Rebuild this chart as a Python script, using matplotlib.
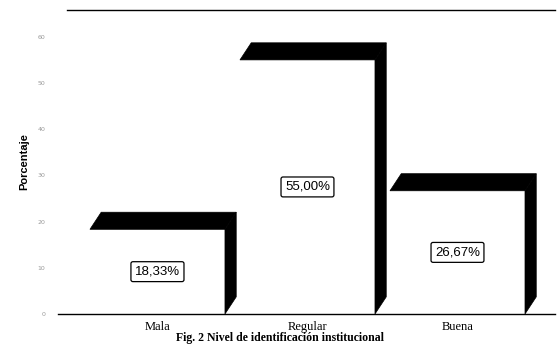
import matplotlib.pyplot as plt
from matplotlib.patches import Polygon

categorias = ['Mala', 'Regular', 'Buena']
porcentajes = [18.33, 55.00, 26.67]
etiquetas = ['18,33%', '55,00%', '26,67%']
yticks = [0, 10, 20, 30, 40, 50, 60]

W, H = 560, 344
fig = plt.figure(figsize=(W / 100, H / 100), dpi=100)
# ejes: x de 58 a 555 px, y de 10 a 314 px
ax = fig.add_axes([58 / W, (H - 314) / H, (555 - 58) / W, (314 - 10) / H])

ancho = 0.9
dx, dy = 0.075, 3.7  # profundidad del efecto 3D
for i, v in enumerate(porcentajes):
    x0, x1 = i - ancho / 2, i + ancho / 2
    # cara frontal
    ax.add_patch(Polygon([(x0, 0), (x1, 0), (x1, v), (x0, v)], closed=True,
                         facecolor='white', edgecolor='none', zorder=2))
    # cara superior
    ax.add_patch(Polygon([(x0, v), (x1, v), (x1 + dx, v + dy), (x0 + dx, v + dy)],
                         closed=True, facecolor='black', edgecolor='black', lw=0.5, zorder=3))
    # cara lateral
    ax.add_patch(Polygon([(x1, 0), (x1 + dx, dy), (x1 + dx, v + dy), (x1, v)],
                         closed=True, facecolor='black', edgecolor='black', lw=0.5, zorder=3))
    ax.text(i, v / 2, etiquetas[i], ha='center', va='center', fontsize=9.5,
            family='Liberation Sans', zorder=4,
            bbox=dict(boxstyle='round,pad=0.3,rounding_size=0.15', fc='white', ec='black', lw=0.9))

ax.set_xlim(-0.663, 2.65)
ax.set_ylim(0, 65.8)
ax.set_xticks(range(len(categorias)))
ax.set_xticklabels(categorias, family='Liberation Serif', fontsize=9)
ax.set_yticks(yticks)
ax.set_yticklabels([str(t) for t in yticks], fontsize=4.5, color='#999999')
ax.tick_params(axis='both', length=0)
ax.tick_params(axis='y', pad=9)
ax.tick_params(axis='x', pad=5)
ax.spines['left'].set_visible(False)
ax.spines['right'].set_visible(False)
ax.spines['top'].set_bounds(-0.6, 2.65)
ax.spines['top'].set_linewidth(1.0)
ax.spines['bottom'].set_linewidth(1.0)
ax.set_ylabel('Porcentaje', fontsize=8, fontweight='bold', family='Liberation Sans', labelpad=6)

fig.text(0.5, (H - 338.5) / H, 'Fig. 2 Nivel de identificación institucional', ha='center', va='center',
         fontsize=8.5, family='Liberation Serif', fontweight='bold')

fig.savefig('out.png', dpi=100)
